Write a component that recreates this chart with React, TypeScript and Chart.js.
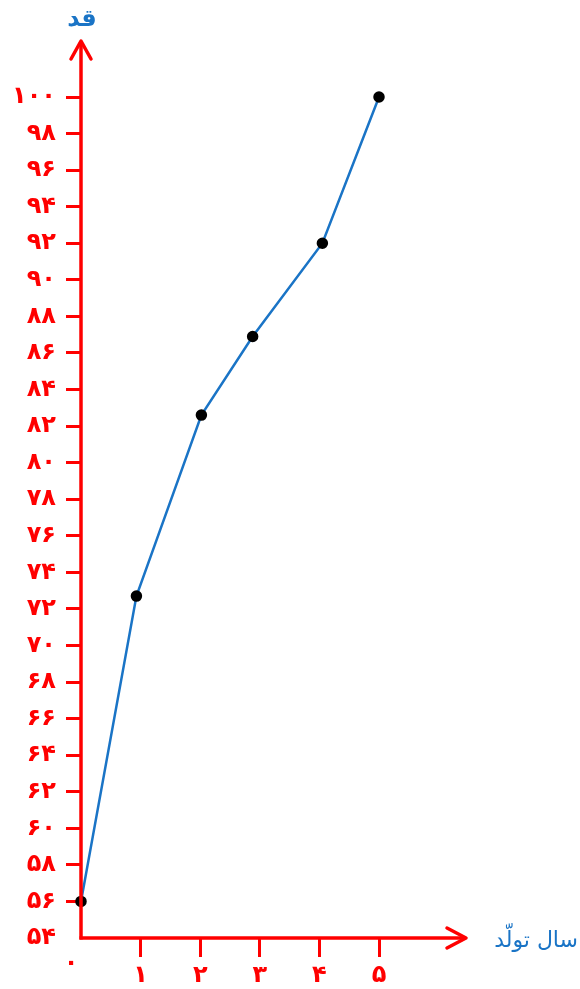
import React, { useEffect, useRef } from "react";
import { Chart, registerables } from "chart.js";

Chart.register(...registerables);

const xValues = [0, 0.93, 2.02, 2.88, 4.05, 5];
const heights = [56, 72.7, 82.6, 86.9, 92, 100];
const xTickLabels = ["۰", "۱", "۲", "۳", "۴", "۵"];
const yTickLabels = [
  "۵۴", "۵۶", "۵۸", "۶۰", "۶۲", "۶۴", "۶۶", "۶۸", "۷۰", "۷۲", "۷۴", "۷۶",
  "۷۸", "۸۰", "۸۲", "۸۴", "۸۶", "۸۸", "۹۰", "۹۲", "۹۴", "۹۶", "۹۸", "۱۰۰",
];
const yAxisTitle = "قد";
const xAxisTitle = "سال تولّد";

const RED = "#ff0000";
const BLUE = "#1a74c6";
const FONT = "'DejaVu Sans', sans-serif";

const axesPlugin = {
  id: "axesArrows",
  afterDraw(chart: any) {
    const ctx = chart.ctx;
    const xs = chart.scales.x;
    const ys = chart.scales.y;
    const ox = xs.getPixelForValue(0);
    const oy = ys.getPixelForValue(54);
    ctx.save();
    ctx.strokeStyle = RED;
    ctx.lineWidth = 3.5;
    ctx.lineCap = "butt";
    ctx.beginPath();
    ctx.moveTo(ox, oy + 1.5);
    ctx.lineTo(ox, 42);
    ctx.stroke();
    ctx.beginPath();
    ctx.moveTo(ox - 1.5, oy);
    ctx.lineTo(465, oy);
    ctx.stroke();
    ctx.lineCap = "round";
    ctx.lineJoin = "round";
    ctx.beginPath();
    ctx.moveTo(ox - 10, 59);
    ctx.lineTo(ox, 41);
    ctx.lineTo(ox + 10, 59);
    ctx.stroke();
    ctx.beginPath();
    ctx.moveTo(447, oy - 10);
    ctx.lineTo(466, oy);
    ctx.lineTo(447, oy + 10);
    ctx.stroke();
    ctx.fillStyle = BLUE;
    ctx.textBaseline = "middle";
    ctx.textAlign = "center";
    ctx.font = "bold 24px " + FONT;
    ctx.fillText(yAxisTitle, ox + 1, 20);
    ctx.textAlign = "right";
    ctx.font = "22px " + FONT;
    ctx.fillText(xAxisTitle, 578, oy + 3);
    ctx.fillStyle = RED;
    ctx.font = "bold 24px " + FONT;
    ctx.textAlign = "center";
    ctx.fillText(xTickLabels[0], ox - 10, oy + 26);
    ctx.restore();
  },
};

export default function App() {
  const ref = useRef<HTMLCanvasElement>(null);
  useEffect(() => {
    document.body.style.margin = "0";
    const chart = new Chart(ref.current!, {
      type: "line",
      data: {
        datasets: [
          {
            data: xValues.map((x, i) => ({ x, y: heights[i] })),
            borderColor: BLUE,
            borderWidth: 2.5,
            pointBackgroundColor: "#000",
            pointBorderColor: "#000",
            pointRadius: 4.5,
            tension: 0,
            clip: false as any,
          },
        ],
      },
      options: {
        animation: false,
        responsive: false,
        layout: { padding: { top: 97, right: 201, left: 0, bottom: 0 } },
        plugins: { legend: { display: false }, tooltip: { enabled: false } },
        scales: {
          x: {
            type: "linear",
            min: 0,
            max: 5,
            border: { display: false },
            grid: {
              drawOnChartArea: false,
              tickLength: 19,
              tickWidth: 3,
              tickColor: (c: any) => (c.tick && c.tick.value === 0 ? "rgba(0,0,0,0)" : RED),
            },
            ticks: {
              stepSize: 1,
              padding: 4,
              color: (c: any) => (c.tick && c.tick.value === 0 ? "rgba(0,0,0,0)" : RED),
              font: { family: FONT, size: 24, weight: "bold" },
              maxRotation: 0,
              callback: (v: any) => xTickLabels[Math.round(Number(v))] ?? "",
            },
            afterFit: (s: any) => {
              s.height = 51;
            },
          },
          y: {
            type: "linear",
            min: 54,
            max: 100,
            border: { display: false },
            grid: {
              drawOnChartArea: false,
              tickLength: 15,
              tickWidth: 3,
              tickColor: (c: any) => (c.tick && c.tick.value === 54 ? "rgba(0,0,0,0)" : RED),
            },
            ticks: {
              stepSize: 2,
              padding: 10,
              color: RED,
              font: { family: FONT, size: 24, weight: "bold" },
              callback: (v: any) => yTickLabels[Math.round((Number(v) - 54) / 2)] ?? "",
            },
            afterFit: (s: any) => {
              s.width = 81;
            },
          },
        },
      },
      plugins: [axesPlugin],
    });
    return () => chart.destroy();
  }, []);
  return (
    <div style={{ width: 580, height: 989 }}>
      <canvas ref={ref} width={580} height={989} style={{ display: "block" }} />
    </div>
  );
}
